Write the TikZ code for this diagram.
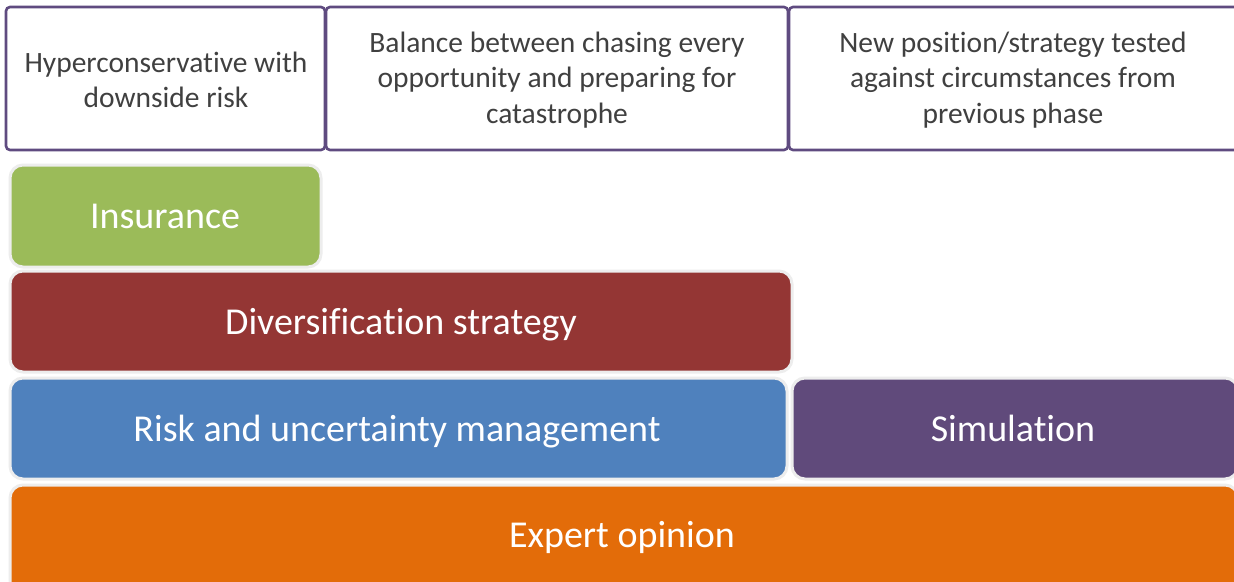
\documentclass[tikz,border=0pt]{standalone}
\usepackage{fontspec}
\setmainfont[Ligatures=NoCommon]{Carlito}
\definecolor{hdrborder}{HTML}{5F4B80}
\definecolor{hdrtext}{HTML}{404040}
\definecolor{cgreen}{HTML}{9BBB59}
\definecolor{cred}{HTML}{943634}
\definecolor{cblue}{HTML}{4F81BD}
\definecolor{cpurple}{HTML}{604A7B}
\definecolor{corange}{HTML}{E36C09}
\definecolor{edgegray}{HTML}{EDEDED}
\tikzset{
  px/.style={x=1pt,y=-1pt},
  hdrbox/.style={draw=hdrborder, line width=2.6pt, rounded corners=4pt, fill=white},
  layerbox/.style={draw=edgegray, line width=3pt, rounded corners=13pt},
  hdrlabel/.style={text=hdrtext, font=\fontsize{29.5}{35.5}\selectfont, align=center},
  layerlabel/.style={text=white, font=\fontsize{38}{44}\selectfont, anchor=base}
}
\begin{document}
\begin{tikzpicture}[px]
\useasboundingbox (0,0) rectangle (1234,581);
\fill[white] (0,0) rectangle (1234,581);
\clip (0,0) rectangle (1234,581);
% header boxes
\draw[hdrbox] (6,7) rectangle (325,150);
\draw[hdrbox] (326,7) rectangle (788,150);
\draw[hdrbox] (789,7) rectangle (1240,150);
\node[hdrlabel] (h1) at (166,80) {Hyperconservative with\\downside risk};
\node[hdrlabel] (h2) at (557,80) {Balance between chasing every\\opportunity and preparing for\\catastrophe};
\node[hdrlabel] (h3) at (1013,80) {New position/strategy tested\\against circumstances from\\previous phase};
% layers
\draw[layerbox, fill=cgreen] (10,165) rectangle (321,267);
\node[layerlabel] (ins) at (165,228.5) {Insurance};
\draw[layerbox, fill=cred] (10,271) rectangle (792,372);
\node[layerlabel] (div) at (401,334.5) {Diversification strategy};
\draw[layerbox, fill=cblue] (10,378) rectangle (787,479);
\node[layerlabel] (risk) at (397,441.5) {Risk and uncertainty management};
\draw[layerbox, fill=cpurple] (792,378) rectangle (1238,479);
\node[layerlabel] (sim) at (1013,441.5) {Simulation};
\draw[layerbox, fill=corange] (10,485) rectangle (1238,595);
\node[layerlabel] (exp) at (622,547.5) {Expert opinion};
\end{tikzpicture}
\end{document}
